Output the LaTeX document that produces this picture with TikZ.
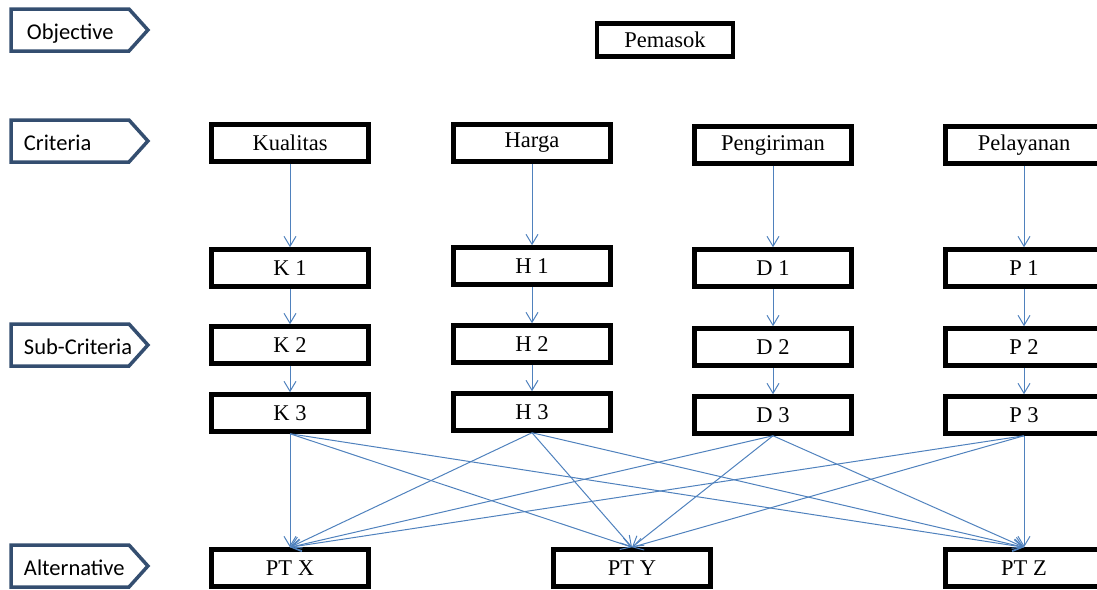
\documentclass[tikz,border=0pt]{standalone}
\usepackage{fontspec}
\setmainfont{Liberation Serif}
\newfontfamily\tagfont{Carlito}
\usetikzlibrary{arrows.meta,shapes.symbols}

\definecolor{tagblue}{RGB}{52,78,112}
\definecolor{linkblue}{RGB}{79,129,189}

\begin{document}
\begin{tikzpicture}[x=1pt, y=-1pt,
  box/.style={draw, line width=4.5pt, minimum width=157pt, minimum height=37pt,
    inner sep=0pt, font=\fontsize{22.5}{26}\selectfont},
  tagbox/.style={draw=tagblue, line width=3.5pt, signal, signal to=east,
    signal pointer angle=96, minimum height=42pt,
    inner sep=0pt, text width=118pt, align=left,
    text height=21pt, text depth=3pt,
    font=\tagfont\fontsize{22.5}{26}\selectfont},
  link/.style={draw=linkblue, line width=1pt, -{Straight Barb[length=10pt,width=12pt]}}]

  \useasboundingbox (0,0) rectangle (1097,589);
  \clip (0,0) rectangle (1097,589);

  %% ==== level tags ====
  \node[tagbox] (tagobj) at (70,30)  {\hspace*{16pt}\mbox{Objective}};
  \node[tagbox] (tagcri) at (70,141) {\hspace*{13pt}\mbox{Criteria}};
  \node[tagbox] (tagsub) at (70,345) {\hspace*{13pt}\mbox{Sub-Criteria}};
  \node[tagbox] (tagalt) at (70,566) {\hspace*{13pt}\mbox{Alternative}};

  %% ==== goal ====
  \node[box, minimum width=136pt, minimum height=33pt] (goal) at (665,40) {Pemasok};

  %% ==== criteria ====
  \node[box] (kual) at (290,143)  {Kualitas};
  \node[box] (harga) at (532,143) {Harga};
  \node[box] (kirim) at (773,145) {Pengiriman};
  \node[box] (layan) at (1024,145) {Pelayanan};

  %% ==== sub-criteria ====
  \node[box] (k1) at (290,268)  {K 1};
  \node[box] (k2) at (290,345)  {K 2};
  \node[box] (k3) at (290,413)  {K 3};
  \node[box] (h1) at (532,266)  {H 1};
  \node[box] (h2) at (532,344)  {H 2};
  \node[box] (h3) at (532,412)  {H 3};
  \node[box] (d1) at (773,268)  {D 1};
  \node[box] (d2) at (773,347)  {D 2};
  \node[box] (d3) at (773,415)  {D 3};
  \node[box] (p1) at (1024,268) {P 1};
  \node[box] (p2) at (1024,347) {P 2};
  \node[box] (p3) at (1024,415) {P 3};

  %% ==== alternatives ====
  \node[box] (ptx) at (290,568)  {PT X};
  \node[box] (pty) at (632,568)  {PT Y};
  \node[box] (ptz) at (1024,568) {PT Z};

  %% ==== links ====
  \draw[link] (kual) -- (k1);
  \draw[link] (harga) -- (h1);
  \draw[link] (kirim) -- (d1);
  \draw[link] (layan) -- (p1);
  \foreach \c in {k,h,d,p} {
    \draw[link] (\c1) -- (\c2);
    \draw[link] (\c2) -- (\c3);
  }
  \foreach \s in {k3,h3,d3,p3}
    \foreach \t in {ptx,pty,ptz}
      \draw[link] (\s.south) -- (\t.north);
\end{tikzpicture}
\end{document}
